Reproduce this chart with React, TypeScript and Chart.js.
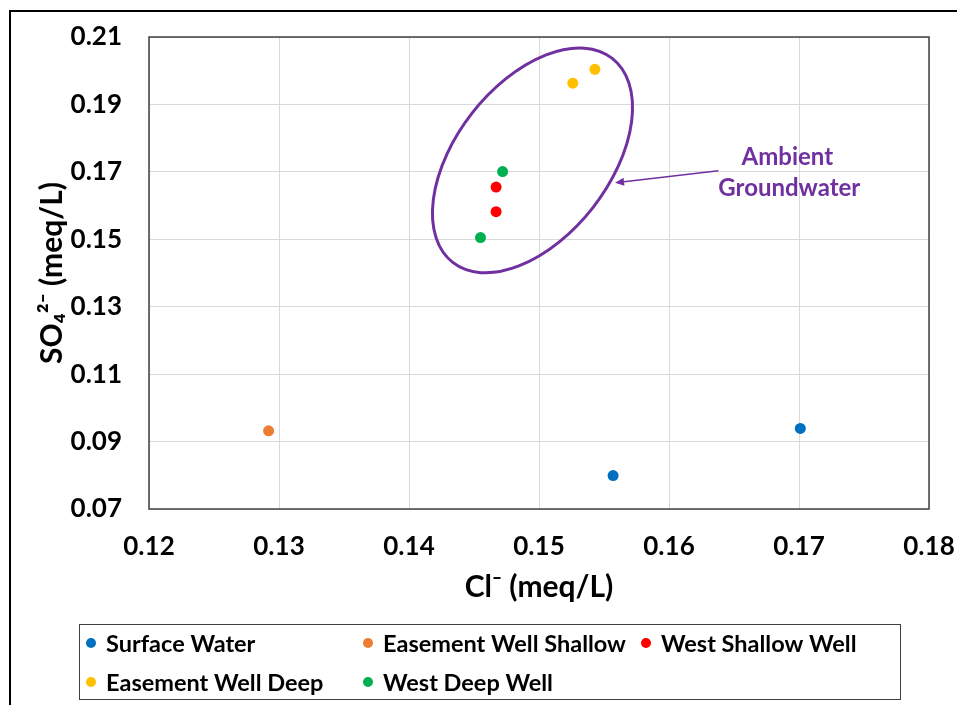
import React, { useEffect, useRef } from 'react';
import { Chart, registerables } from 'chart.js';

Chart.register(...registerables);

// ---- Data ----
const seriesNames = ['Surface Water', 'Easement Well Shallow', 'West Shallow Well', 'Easement Well Deep', 'West Deep Well'];
const seriesColors = ['#0070C0', '#ED7D31', '#FF0000', '#FFC000', '#00B050'];

const surfaceWaterCl = [0.1557, 0.1701];
const surfaceWaterSO4 = [0.0799, 0.0939];
const easementShallowCl = [0.1292];
const easementShallowSO4 = [0.0932];
const westShallowCl = [0.1467, 0.1467];
const westShallowSO4 = [0.1655, 0.1582];
const easementDeepCl = [0.1526, 0.1543];
const easementDeepSO4 = [0.1963, 0.2004];
const westDeepCl = [0.1472, 0.1455];
const westDeepSO4 = [0.1701, 0.1505];

const xAxis = { min: 0.12, max: 0.18, step: 0.01 };
const yAxis = { min: 0.07, max: 0.21, step: 0.02 };
const xTitle = 'Cl\u207B (meq/L)';
const yTitle = 'SO\u2084\u00B2\u207B (meq/L)';

// Annotation (data coordinates)
const annotationLabel = ['Ambient', 'Groundwater'];
const ellipseCenter = [0.1495, 0.1734];
const arrowFrom = [0.1638, 0.1703];
const arrowTo = [0.15585, 0.16674];
const labelAnchor = [0.1691, 0.1696];

const PURPLE = '#7030A0';
const FONT = 'Lato, "Open Sans", sans-serif';

const toPoints = (xs: number[], ys: number[]) => xs.map((v, i) => ({ x: v, y: ys[i] }));
const seriesData = [
  toPoints(surfaceWaterCl, surfaceWaterSO4),
  toPoints(easementShallowCl, easementShallowSO4),
  toPoints(westShallowCl, westShallowSO4),
  toPoints(easementDeepCl, easementDeepSO4),
  toPoints(westDeepCl, westDeepSO4),
];

const frameAndBorderPlugin = {
  id: 'frameAndBorder',
  beforeDraw(chart: any) {
    const ctx = chart.ctx;
    ctx.save();
    ctx.fillStyle = '#ffffff';
    ctx.fillRect(0, 0, chart.width, chart.height);
    ctx.strokeStyle = '#000000';
    ctx.lineWidth = 2;
    ctx.beginPath();
    ctx.moveTo(10, chart.height + 5);
    ctx.lineTo(10, 11);
    ctx.lineTo(chart.width + 5, 11);
    ctx.stroke();
    ctx.restore();
  },
  beforeDatasetsDraw(chart: any) {
    const { ctx, chartArea } = chart;
    ctx.save();
    ctx.strokeStyle = '#404040';
    ctx.lineWidth = 1.5;
    ctx.strokeRect(chartArea.left, chartArea.top, chartArea.right - chartArea.left, chartArea.bottom - chartArea.top);
    ctx.restore();
  },
};

const annotationPlugin = {
  id: 'ambientAnnotation',
  afterDatasetsDraw(chart: any) {
    const { ctx } = chart;
    const xs = chart.scales.x;
    const ys = chart.scales.y;
    const px = (v: number[]) => [xs.getPixelForValue(v[0]), ys.getPixelForValue(v[1])];
    const [cx, cy] = px(ellipseCenter);
    ctx.save();
    ctx.strokeStyle = PURPLE;
    ctx.lineWidth = 3;
    ctx.beginPath();
    ctx.ellipse(cx, cy, 129.5, 76.7, (-52 * Math.PI) / 180, 0, Math.PI * 2);
    ctx.stroke();

    const [x1, y1] = px(arrowFrom);
    const [x2, y2] = px(arrowTo);
    const ang = Math.atan2(y2 - y1, x2 - x1);
    const hl = 9;
    const hw = 4;
    const bx = x2 - hl * Math.cos(ang);
    const by = y2 - hl * Math.sin(ang);
    ctx.lineWidth = 1.5;
    ctx.beginPath();
    ctx.moveTo(x1, y1);
    ctx.lineTo(bx, by);
    ctx.stroke();
    ctx.fillStyle = PURPLE;
    ctx.beginPath();
    ctx.moveTo(x2, y2);
    ctx.lineTo(bx + hw * Math.sin(ang), by - hw * Math.cos(ang));
    ctx.lineTo(bx - hw * Math.sin(ang), by + hw * Math.cos(ang));
    ctx.closePath();
    ctx.fill();

    const [tx, ty] = px(labelAnchor);
    ctx.font = `bold 24px ${FONT}`;
    ctx.textAlign = 'center';
    ctx.textBaseline = 'middle';
    ctx.fillText(annotationLabel[0], tx, ty - 15.5);
    ctx.fillText(annotationLabel[1], tx + 2, ty + 15.5);
    ctx.restore();
  },
};

const gridLegendPlugin = {
  id: 'gridLegend',
  afterDraw(chart: any) {
    const ctx = chart.ctx;
    ctx.save();
    ctx.strokeStyle = '#404040';
    ctx.lineWidth = 1;
    ctx.strokeRect(79.5, 624.5, 821, 75);
    const cols = [91, 368, 646];
    const rows = [643, 682];
    ctx.font = `bold 23.5px ${FONT}`;
    ctx.textAlign = 'left';
    ctx.textBaseline = 'middle';
    chart.data.datasets.forEach((ds: any, i: number) => {
      const cx = cols[i % 3];
      const cy = rows[Math.floor(i / 3)];
      ctx.fillStyle = ds.backgroundColor;
      ctx.beginPath();
      ctx.arc(cx, cy, 5, 0, Math.PI * 2);
      ctx.fill();
      ctx.fillStyle = '#000000';
      ctx.fillText(ds.label, cx + 15, cy + 1);
    });
    ctx.restore();
  },
};

const zeroPadding = (s: any) => {
  s.paddingLeft = 0;
  s.paddingRight = 0;
  s.paddingTop = 0;
  s.paddingBottom = 0;
};

export default function App() {
  const canvasRef = useRef<HTMLCanvasElement | null>(null);

  useEffect(() => {
    if (!canvasRef.current) return;
    const chart = new Chart(canvasRef.current, {
      type: 'scatter',
      data: {
        datasets: seriesNames.map((name, i) => ({
          label: name,
          data: seriesData[i],
          backgroundColor: seriesColors[i],
          borderColor: seriesColors[i],
          pointRadius: 5.5,
          pointHoverRadius: 5.5,
          pointBorderWidth: 0,
        })),
      },
      options: {
        responsive: false,
        animation: false,
        layout: { padding: { left: 10, top: 37, right: 28, bottom: 100 } },
        plugins: {
          legend: { display: false },
          tooltip: { enabled: false },
        },
        scales: {
          x: {
            type: 'linear',
            min: xAxis.min,
            max: xAxis.max,
            afterFit: (s: any) => {
              s.height = 96;
              zeroPadding(s);
            },
            grid: { color: '#d9d9d9', lineWidth: 1, drawTicks: false },
            border: { display: false },
            ticks: {
              stepSize: xAxis.step,
              padding: 22,
              color: '#000000',
              font: { family: FONT, size: 26, weight: 'bold' },
              callback: (v: any) => Number(v).toFixed(2),
            },
            title: {
              display: true,
              text: xTitle,
              color: '#000000',
              padding: { top: 0, bottom: 0 },
              font: { family: FONT, size: 30, weight: 'bold' },
            },
          },
          y: {
            type: 'linear',
            min: yAxis.min,
            max: yAxis.max,
            afterFit: (s: any) => {
              s.width = 139;
              zeroPadding(s);
            },
            grid: { color: '#d9d9d9', lineWidth: 1, drawTicks: false },
            border: { display: false },
            ticks: {
              stepSize: yAxis.step,
              padding: 27,
              color: '#000000',
              font: { family: FONT, size: 26, weight: 'bold' },
              callback: (v: any) => Number(v).toFixed(2),
            },
            title: {
              display: true,
              text: yTitle,
              color: '#000000',
              padding: { top: 24, bottom: 0 },
              font: { family: FONT, size: 30, weight: 'bold' },
            },
          },
        },
      },
      plugins: [frameAndBorderPlugin, annotationPlugin, gridLegendPlugin],
    } as any);
    return () => chart.destroy();
  }, []);

  return (
    <div style={{ position: 'absolute', left: 0, top: 0, width: 957, height: 705, background: '#fff' }}>
      <canvas ref={canvasRef} width={957} height={705} style={{ display: 'block' }} />
    </div>
  );
}
